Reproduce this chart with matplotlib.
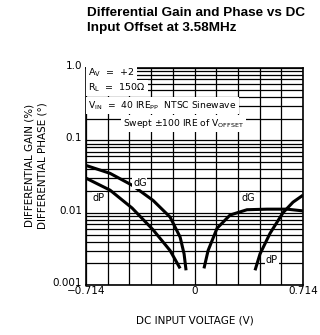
#!/usr/bin/env python3
"""Differential gain and phase vs DC input offset at 3.58MHz."""

import matplotlib
matplotlib.use("Agg")
import matplotlib.pyplot as plt
import matplotlib.transforms as mtransforms
import numpy as np
from matplotlib.ticker import FixedLocator, LogLocator, NullFormatter

# curve data (V, value)
dg_left_x = [-0.714, -0.556, -0.411, -0.273, -0.161, -0.095, -0.069, -0.056]
dg_left_y = [0.045, 0.035, 0.024, 0.0148, 0.0087, 0.0046, 0.0027, 0.0016]
dp_left_x = [-0.714, -0.556, -0.411, -0.273, -0.161, -0.095]
dp_left_y = [0.030, 0.0205, 0.0116, 0.0058, 0.0030, 0.0017]
dg_right_x = [0.062, 0.089, 0.148, 0.234, 0.345, 0.477, 0.609, 0.714]
dg_right_y = [0.0017, 0.0030, 0.0061, 0.0093, 0.0110, 0.0112, 0.0112, 0.0106]
dp_right_x = [0.398, 0.431, 0.497, 0.582, 0.648, 0.714]
dp_right_y = [0.0016, 0.0027, 0.0052, 0.0100, 0.0140, 0.0175]

x_ticks = [-0.714, 0, 0.714]
x_tick_labels = ["\u22120.714", "0", "0.714"]
y_ticks = [0.001, 0.01, 0.1, 1.0]
y_tick_labels = ["0.001", "0.01", "0.1", "1.0"]

plt.rcParams.update({"font.family": "DejaVu Sans", "font.size": 7})

fig = plt.figure(figsize=(3.2, 3.35), dpi=100)
ax = fig.add_axes([0.269, 0.149, 0.678, 0.648])

ax.set_yscale("log")
ax.set_xlim(-0.714, 0.714)
ax.set_ylim(0.001, 1.0)

ax.set_xticks(x_ticks)
ax.set_xticklabels(x_tick_labels)
ax.xaxis.set_minor_locator(FixedLocator(np.linspace(-0.714, 0.714, 11)))
ax.set_yticks(y_ticks)
ax.set_yticklabels(y_tick_labels)
ax.yaxis.set_minor_locator(LogLocator(base=10, subs=np.arange(2, 10)))
ax.yaxis.set_minor_formatter(NullFormatter())
ax.tick_params(which="both", length=0, labelsize=7.5)
ax.tick_params(axis="x", pad=1)
ax.tick_params(axis="y", pad=3)
ax.grid(which="both", color="black", linewidth=0.9)
ax.set_axisbelow(True)
for s in ax.spines.values():
    s.set_linewidth(1.2)

# y tick labels sit a little above their grid lines in the reference
lift = mtransforms.ScaledTranslation(0, 2.2 / 72, fig.dpi_scale_trans)
for t in ax.get_yticklabels():
    t.set_transform(t.get_transform() + lift)

for xs, ys in [(dg_left_x, dg_left_y), (dp_left_x, dp_left_y),
               (dg_right_x, dg_right_y), (dp_right_x, dp_right_y)]:
    ax.plot(xs, ys, color="black", linewidth=2.2, solid_capstyle="butt", zorder=3)

box = dict(facecolor="white", edgecolor="none", pad=1.5)
ax.text(-0.70, 0.85, r"A$_\mathrm{V}$  =  +2", fontsize=6.8, va="center", bbox=box, zorder=4)
ax.text(-0.70, 0.53, r"R$_\mathrm{L}$  =  150$\Omega$", fontsize=6.8, va="center", bbox=box, zorder=4)
ax.text(-0.70, 0.305, r"V$_\mathrm{IN}$  =  40 IRE$_\mathrm{PP}$  NTSC Sinewave",
        fontsize=6.6, va="center", bbox=box, zorder=4)
ax.text(-0.47, 0.173, r"Swept $\pm$100 IRE of V$_\mathrm{OFFSET}$",
        fontsize=6.6, va="center", bbox=box, zorder=4)

lbl = dict(fontsize=7, ha="center", va="center",
           bbox=dict(facecolor="white", edgecolor="none", pad=0.5), zorder=4)
ax.text(-0.36, 0.0257, "dG", **lbl)
ax.text(-0.63, 0.0159, "dP", **lbl)
ax.text(0.352, 0.0159, "dG", **lbl)
ax.text(0.51, 0.0022, "dP", **lbl)

ax.set_xlabel("DC INPUT VOLTAGE (V)", fontsize=7.5, labelpad=14)
ax.set_ylabel("DIFFERENTIAL GAIN (%)\nDIFFERENTIAL PHASE (\u00b0)", fontsize=7.5,
              linespacing=1.3)
ax.yaxis.set_label_coords(-0.18, 0.55)

fig.text(0.272, 0.98, "Differential Gain and Phase vs DC\nInput Offset at 3.58MHz",
         family=["Liberation Sans", "DejaVu Sans"], fontweight="bold",
         fontsize=9.7, ha="left", va="top", linespacing=1.35)

fig.savefig("out.png", dpi=100)
